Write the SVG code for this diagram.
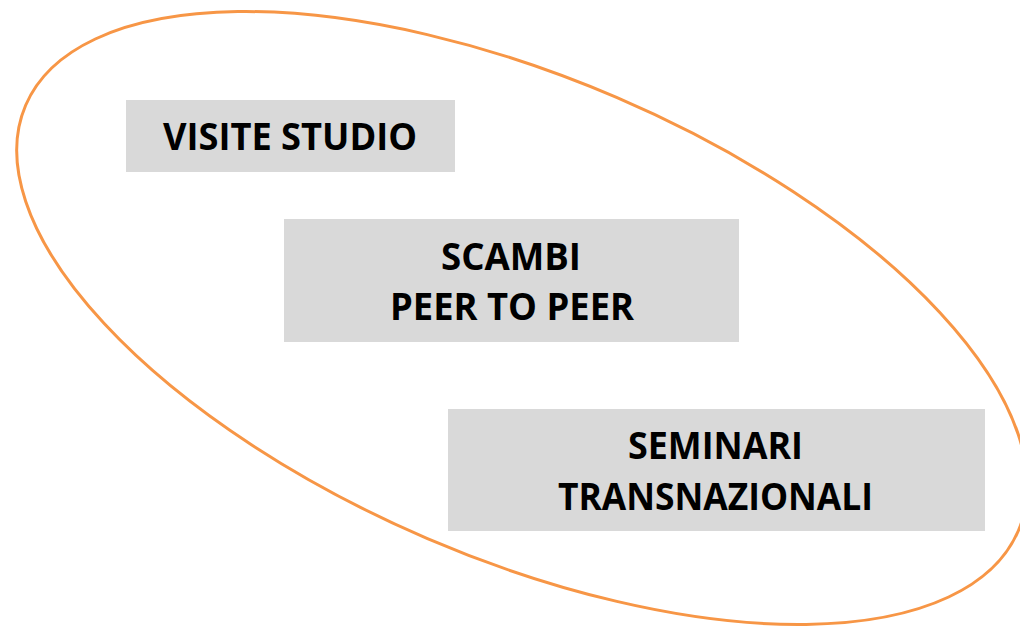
<svg xmlns="http://www.w3.org/2000/svg" width="1020" height="627" viewBox="0 0 1020 627">
<style>
.box{fill:#D9D9D9;}
.t{font-family:"Open Sans","Liberation Sans",sans-serif;font-weight:bold;font-size:38px;fill:#000;}
</style>
<rect width="1020" height="627" fill="#fff"/>
<ellipse cx="522" cy="318" rx="540" ry="240" transform="rotate(23.2 522 318)" fill="none" stroke="#F79646" stroke-width="3"/>
<g id="visite">
<rect class="box" x="126" y="100" width="329" height="72"/>
<text class="t" x="163" y="150" textLength="254" lengthAdjust="spacingAndGlyphs">VISITE STUDIO</text>
</g>
<g id="scambi">
<rect class="box" x="284" y="219" width="455" height="123"/>
<text class="t" x="441" y="270" textLength="140" lengthAdjust="spacingAndGlyphs">SCAMBI</text>
<text class="t" x="390" y="320" textLength="244" lengthAdjust="spacingAndGlyphs">PEER TO PEER</text>
</g>
<g id="seminari">
<rect class="box" x="448" y="409" width="537" height="122"/>
<text class="t" x="628" y="459" textLength="175" lengthAdjust="spacingAndGlyphs">SEMINARI</text>
<text class="t" x="558" y="510" textLength="315" lengthAdjust="spacingAndGlyphs">TRANSNAZIONALI</text>
</g>
<g id="connectors"></g>
</svg>
